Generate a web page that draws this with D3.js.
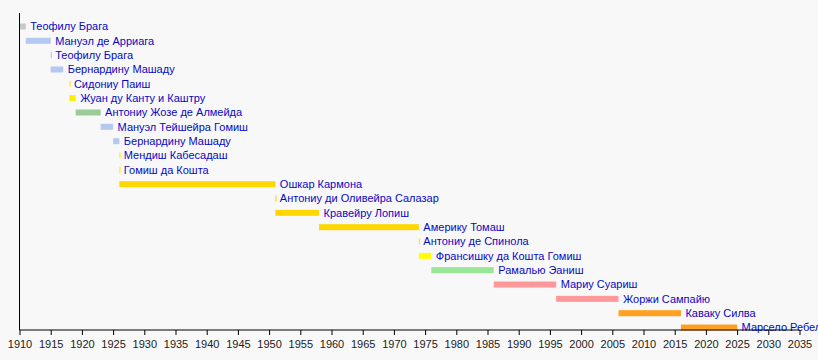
<!DOCTYPE html>
<html><head><meta charset="utf-8">
<script src="https://cdn.jsdelivr.net/npm/d3@7"></script>
<style>
html,body{margin:0;padding:0;background:#f8f8f8;}
svg{display:block;}
</style></head>
<body>
<svg id="chart" width="818" height="360"></svg>
<script>
const names = ["Теофилу Брага","Мануэл де Арриага","Теофилу Брага","Бернардину Машаду","Сидониу Паиш","Жуан ду Канту и Каштру","Антониу Жозе де Алмейда","Мануэл Тейшейра Гомиш","Бернардину Машаду","Мендиш Кабесадаш","Гомиш да Кошта","Ошкар Кармона","Антониу ди Оливейра Салазар","Кравейру Лопиш","Америку Томаш","Антониу де Спинола","Франсишку да Кошта Гомиш","Рамалью Эаниш","Мариу Суариш","Жоржи Сампайю","Каваку Силва","Марсело Ребелу ди Соза"];
const starts = [1910,1911,1915,1915,1918,1918,1919,1923,1925,1926,1926,1926,1951,1951,1958,1974,1974,1976,1986,1996,2006,2016];
const ends   = [1911,1915,1915,1917,1918,1919,1923,1925,1926,1926,1926,1951,1951,1958,1974,1974,1976,1986,1996,2006,2016,2025];
const colors = ["#c8c8c8","#b4c8f2","#b4c8f2","#b4c8f2","#ffee00","#ffee00","#99cc99","#b4c8f2","#b4c8f2","#ffee00","#ffee00","#ffd700","#ffd700","#ffd700","#ffd700","#ffee00","#ffff00","#99e699","#ff9999","#ff9999","#ffa020","#ffa020"];
const tickYears = d3.range(1910, 2036, 5);

const svg = d3.select("#chart");
const x = d3.scaleLinear().domain([1910, 2035]).range([19.5, 799.5]);
const y = d3.scaleBand().domain(d3.range(names.length)).range([19.3, 334.7]).paddingInner(0.58).paddingOuter(0.29);
const barH = 6;

const rows = names.map((n,i)=>({n, s:starts[i], e:ends[i], c:colors[i], i}));

const g = svg.append("g");
g.selectAll("rect.bar").data(rows).enter().append("rect")
  .attr("class","bar")
  .attr("x", d => x(d.s))
  .attr("y", d => y(d.i) + y.bandwidth()/2 - barH/2)
  .attr("width", d => Math.max(1.2, x(d.e) - x(d.s)))
  .attr("height", barH)
  .attr("fill", d => d.c);

g.selectAll("text.lbl").data(rows).enter().append("text")
  .attr("class","lbl")
  .attr("x", d => x(d.e) + 4.5)
  .attr("y", d => y(d.i) + y.bandwidth()/2)
  .attr("dy", "0.35em")
  .attr("font-family", "'Liberation Sans', Arial, sans-serif")
  .attr("font-size", 11)
  .attr("fill", "#0808c4")
  .text(d => d.n);

// left vertical line
svg.append("line").attr("x1", x(1910)).attr("x2", x(1910)).attr("y1", 13).attr("y2", 330)
  .attr("stroke", "#000").attr("stroke-width", 1);

const axis = d3.axisBottom(x).tickValues(tickYears).tickFormat(d3.format("d")).tickSize(5).tickSizeOuter(0);
const ax = svg.append("g").attr("transform", "translate(0,330)").call(axis);
ax.select(".domain").attr("stroke", "#000").attr("d", `M${x(1910)},0H${x(2035)}`);
ax.selectAll(".tick line").attr("stroke", "#000");
ax.selectAll(".tick text").attr("font-family", "'Liberation Sans', Arial, sans-serif").attr("font-size", 11).attr("fill", "#222").attr("dy", "0.9em");
</script>
</body></html>
